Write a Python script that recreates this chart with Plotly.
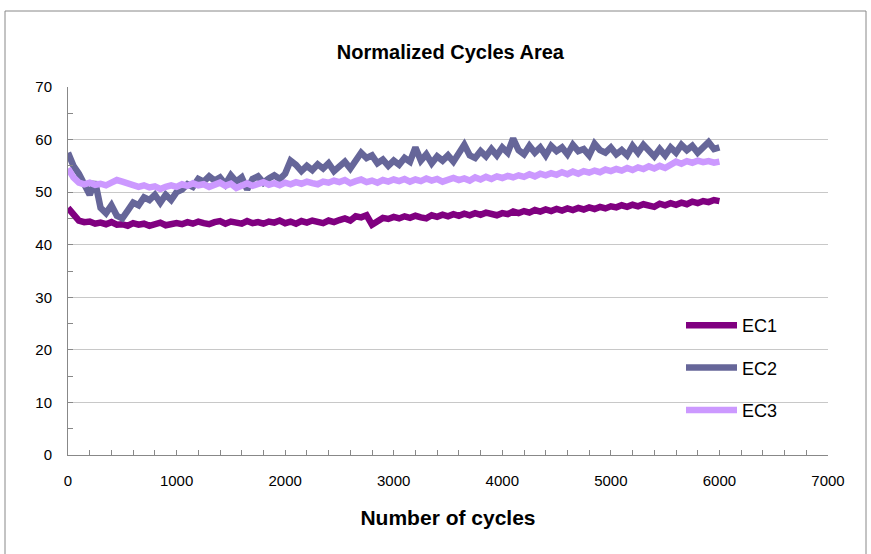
import plotly.graph_objects as go

cycles = list(range(0, 6001, 50))

ec1 = [47.0, 45.8, 44.6, 44.3, 44.4, 44.0, 44.2, 43.9, 44.3, 43.8,
       43.9, 43.6, 44.1, 43.8, 44.0, 43.6, 43.9, 44.2, 43.7, 44.0,
       44.1, 43.9, 44.3, 44.0, 44.4, 44.1, 43.9, 44.3, 44.5, 44.0,
       44.4, 44.2, 44.0, 44.5, 44.1, 44.3, 44.0, 44.4, 44.2, 44.6,
       44.1, 44.4, 44.0, 44.5, 44.2, 44.6, 44.3, 44.1, 44.6, 44.3,
       44.7, 45.0, 44.6, 45.4, 45.2, 45.6, 43.8, 44.6, 45.1, 44.9,
       45.3, 45.0, 45.4, 45.1, 45.5, 45.2, 45.0, 45.6, 45.3, 45.7,
       45.4, 45.8, 45.5, 45.9, 45.6, 46.0, 45.7, 46.1, 45.8, 45.6,
       46.0, 45.8, 46.3, 46.0, 46.4, 46.1, 46.6, 46.3, 46.7, 46.4,
       46.8, 46.5, 46.9, 46.6, 47.0, 46.7, 47.1, 46.8, 47.2, 46.9,
       47.3, 47.1, 47.5, 47.2, 47.6, 47.3, 47.7, 47.4, 47.2, 47.8,
       47.5, 47.9, 47.6, 48.0, 47.7, 48.2, 47.9, 48.3, 48.1, 48.5,
       48.3]

ec2 = [57.5, 55.0, 53.5, 51.5, 49.5, 52.0, 47.0, 46.0, 47.5, 45.5,
       45.0, 46.5, 48.0, 47.5, 49.0, 48.5, 49.5, 48.0, 49.5, 48.5,
       50.0, 50.5, 51.5, 51.0, 52.5, 52.0, 53.0, 52.2, 52.8, 51.5,
       53.2, 52.0, 52.8, 50.5, 52.5, 53.0, 51.8, 52.6, 53.2, 52.5,
       53.5, 56.0, 55.2, 54.0, 55.0, 54.2, 55.3, 54.5, 55.5, 54.0,
       55.0, 55.8, 54.5, 56.0, 57.5, 56.5, 57.0, 55.5, 56.2, 55.0,
       56.0, 55.2, 56.5, 55.8, 58.5, 56.0, 57.2, 55.5, 56.8, 56.0,
       57.0, 55.8, 57.5, 59.0, 57.0, 56.5, 57.8, 56.8, 58.2, 57.0,
       58.5, 57.5, 60.2, 58.0, 57.2, 58.8, 57.5, 58.5, 57.0, 58.8,
       57.8, 58.5, 57.2, 59.0, 57.8, 58.2, 57.0, 59.2, 58.0, 57.5,
       58.5, 57.2, 58.0, 57.0, 58.8, 57.5, 59.0, 57.8, 56.8, 58.2,
       57.0, 58.5, 57.5, 59.0, 58.0, 58.8, 57.5, 58.5, 59.5, 58.2,
       58.5]

ec3 = [54.5, 52.8, 51.8, 51.5, 51.8, 51.4, 51.6, 51.3, 51.8, 52.3,
       52.0, 51.6, 51.2, 51.0, 51.3, 50.9, 51.1, 50.6, 51.0, 51.3,
       51.0, 51.5, 51.2, 51.7, 51.3, 51.5, 51.0, 51.4, 51.8, 51.2,
       51.6, 50.8, 51.4, 51.7, 51.2, 51.5, 51.9, 51.4, 51.7, 51.3,
       51.8, 51.5, 51.9, 51.6, 52.0, 51.7, 51.5, 52.0, 51.8, 52.2,
       51.9, 52.3, 51.7, 52.1, 52.4, 51.9, 52.2, 51.8, 52.3, 52.0,
       52.4, 52.1, 52.5, 52.0, 52.4, 52.1, 52.6, 52.2, 52.5, 52.0,
       52.4, 52.7, 52.3, 52.6, 52.2, 52.8, 52.4, 52.9, 52.5, 53.0,
       52.7, 53.1, 52.8, 53.2, 52.9, 53.4, 53.0, 53.5, 53.2, 53.6,
       53.3, 53.8, 53.4, 53.9, 53.5, 54.0, 53.7, 54.1, 53.8, 54.3,
       54.0, 54.4, 54.1, 54.6, 54.2, 54.7, 54.4, 54.9, 54.5, 55.0,
       54.6, 55.1, 55.8, 55.4, 55.9, 55.6, 56.0, 55.7, 55.9, 55.6,
       55.8]

series_names = ["EC1", "EC2", "EC3"]
series_colors = ["#800080", "#666699", "#CC99FF"]
series_values = [ec1, ec2, ec3]

title_text = "Normalized Cycles Area"
x_title = "Number of cycles"

FONT = "Liberation Sans, Arial, sans-serif"

fig = go.Figure()
for name, color, vals in zip(series_names, series_colors, series_values):
    fig.add_trace(go.Scatter(
        x=cycles, y=vals, mode="lines", name=name, legendgroup=name,
        line=dict(color=color, width=6.5),
    ))

W, H = 871, 554
L, R, T, B = 68, 43, 87, 99
pw, ph = W - L - R, H - T - B

def px_x(p):
    return (p - L) / pw

def px_y(p):
    return (H - B - p) / ph

fig.update_layout(
    width=W, height=H,
    margin=dict(l=L, r=R, t=T, b=B),
    paper_bgcolor="white", plot_bgcolor="white",
    font=dict(family=FONT, color="black", size=14),
    title=dict(text="<b>" + title_text + "</b>", x=px_x(461), xanchor="center",
               y=1 - 52 / H, yanchor="middle", font=dict(size=20)),
    showlegend=True,
    legend=dict(x=px_x(681), y=px_y(307), xanchor="left", yanchor="top",
                bgcolor="rgba(0,0,0,0)", font=dict(size=18), tracegroupgap=16,
                itemwidth=51),
    xaxis=dict(range=[0, 7000], dtick=1000, tick0=0, showgrid=False, zeroline=False,
               showline=True, linecolor="#888888", linewidth=1,
               ticks="inside", ticklen=5, tickcolor="#888888",
               minor=dict(dtick=200, ticks="inside", ticklen=5, tickcolor="#888888", showgrid=False),
               ticklabelstandoff=12,
               tickfont=dict(size=15),
               title=dict(text="<b>" + x_title + "</b>", font=dict(size=21), standoff=22)),
    yaxis=dict(range=[0, 70], dtick=10, tick0=0, showgrid=True, gridcolor="#c8c8c8", gridwidth=1,
               zeroline=False, showline=True, linecolor="#888888", linewidth=1,
               ticks="inside", ticklen=5, tickcolor="#888888",
               minor=dict(dtick=5, ticks="inside", ticklen=5, tickcolor="#888888", showgrid=False),
               ticklabelstandoff=12, tickfont=dict(size=15)),
)

# white legend backdrop (covers gridlines, sits below the traces)
fig.add_shape(type="rect", xref="paper", yref="paper",
              x0=px_x(664), x1=px_x(797), y0=px_y(440), y1=px_y(300),
              line=dict(width=0), fillcolor="white", layer="between")

fig.add_shape(type="rect", xref="paper", yref="paper",
              x0=px_x(5), x1=px_x(866), y0=px_y(600), y1=px_y(11),
              line=dict(color="#888888", width=1), fillcolor="rgba(0,0,0,0)", layer="below")

fig.write_html("out.html")
